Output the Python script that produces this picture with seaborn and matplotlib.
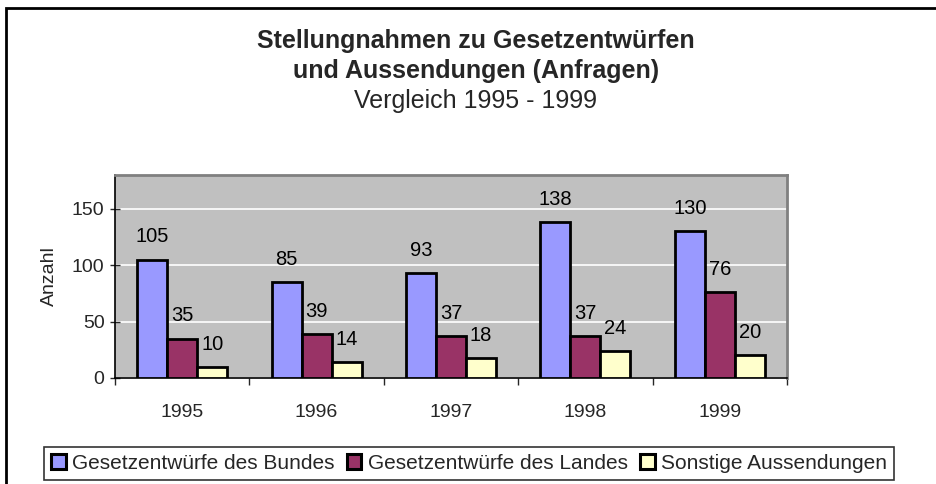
import matplotlib
matplotlib.use("Agg")
import matplotlib.pyplot as plt
import seaborn as sns
import pandas as pd
from matplotlib.patches import Rectangle, Patch

years = ["1995", "1996", "1997", "1998", "1999"]
bund = [105, 85, 93, 138, 130]
land = [35, 39, 37, 37, 76]
sonstige = [10, 14, 18, 24, 20]
series_names = ["Gesetzentwürfe des Bundes", "Gesetzentwürfe des Landes", "Sonstige Aussendungen"]
colors = ["#9999FF", "#993366", "#FFFFCC"]

df = pd.DataFrame({
    "Jahr": years * 3,
    "Anzahl": bund + land + sonstige,
    "Serie": [series_names[0]] * 5 + [series_names[1]] * 5 + [series_names[2]] * 5,
})

sns.set_theme(style="white")
plt.rcParams["font.family"] = ["Liberation Sans", "DejaVu Sans"]

fig = plt.figure(figsize=(9.36, 4.84), dpi=100)
ax = fig.add_axes([115/936, 1-378/484, (787-115)/936, (378-175)/484])
ax.set_facecolor("#C0C0C0")

sns.barplot(data=df, x="Jahr", y="Anzahl", hue="Serie", order=years,
            hue_order=series_names, palette=colors, width=0.67,
            edgecolor="black", linewidth=2, saturation=1, ax=ax, legend=False,
            zorder=3)

for c in ax.containers:
    ax.bar_label(c, padding=9.5, fontsize=14.5, color="black")

ax.set_ylim(0, 180)
ax.set_xlim(-0.5, 4.5)
ax.set_yticks([0, 50, 100, 150])
ax.yaxis.grid(True, color="white", linewidth=1.2, zorder=0)
ax.set_axisbelow(True)
ax.tick_params(axis="y", labelsize=14, length=7, width=1, direction="inout", left=True, pad=4)
ax.set_xticks([-0.5, 0.5, 1.5, 2.5, 3.5, 4.5])
ax.set_xticklabels([""] * 6)
ax.set_xticks(range(5), minor=True)
ax.set_xticklabels(years, minor=True)
ax.tick_params(axis="x", which="major", length=5, width=1, direction="out", bottom=True)
ax.tick_params(axis="x", which="minor", length=0, labelsize=14, pad=19)
ax.set_xlabel("")
ax.set_ylabel("Anzahl", fontsize=14, labelpad=10)

for s in ["top", "right"]:
    ax.spines[s].set_color("#808080")
    ax.spines[s].set_linewidth(2)
for s in ["left", "bottom"]:
    ax.spines[s].set_color("black")
    ax.spines[s].set_linewidth(1.2)

# titles
fig.text(476/936, 1-48/484, "Stellungnahmen zu Gesetzentwürfen", ha="center", va="baseline",
         fontsize=18, fontweight="bold")
fig.text(476/936, 1-78/484, "und Aussendungen (Anfragen)", ha="center", va="baseline",
         fontsize=18, fontweight="bold")
fig.text(476/936, 1-108/484, "Vergleich 1995 - 1999", ha="center", va="baseline",
         fontsize=18)

# legend
handles = [Patch(facecolor=c, edgecolor="black", linewidth=2.2) for c in colors]
leg = fig.legend(handles, series_names, loc="center", ncol=3,
                 bbox_to_anchor=(469/936, 1-463.5/484), fontsize=15,
                 frameon=True, fancybox=False, edgecolor="black",
                 handlelength=0.7, handleheight=0.7, handletextpad=0.3,
                 columnspacing=0.6, borderpad=0.35, borderaxespad=0)
leg.get_frame().set_linewidth(1.2)

# outer frame
fig.patches.append(Rectangle((6/936, -0.2), 1.2, 1-8/484+0.2, transform=fig.transFigure,
                             fill=False, edgecolor="black", linewidth=2))

fig.savefig("out.png", dpi=100)
